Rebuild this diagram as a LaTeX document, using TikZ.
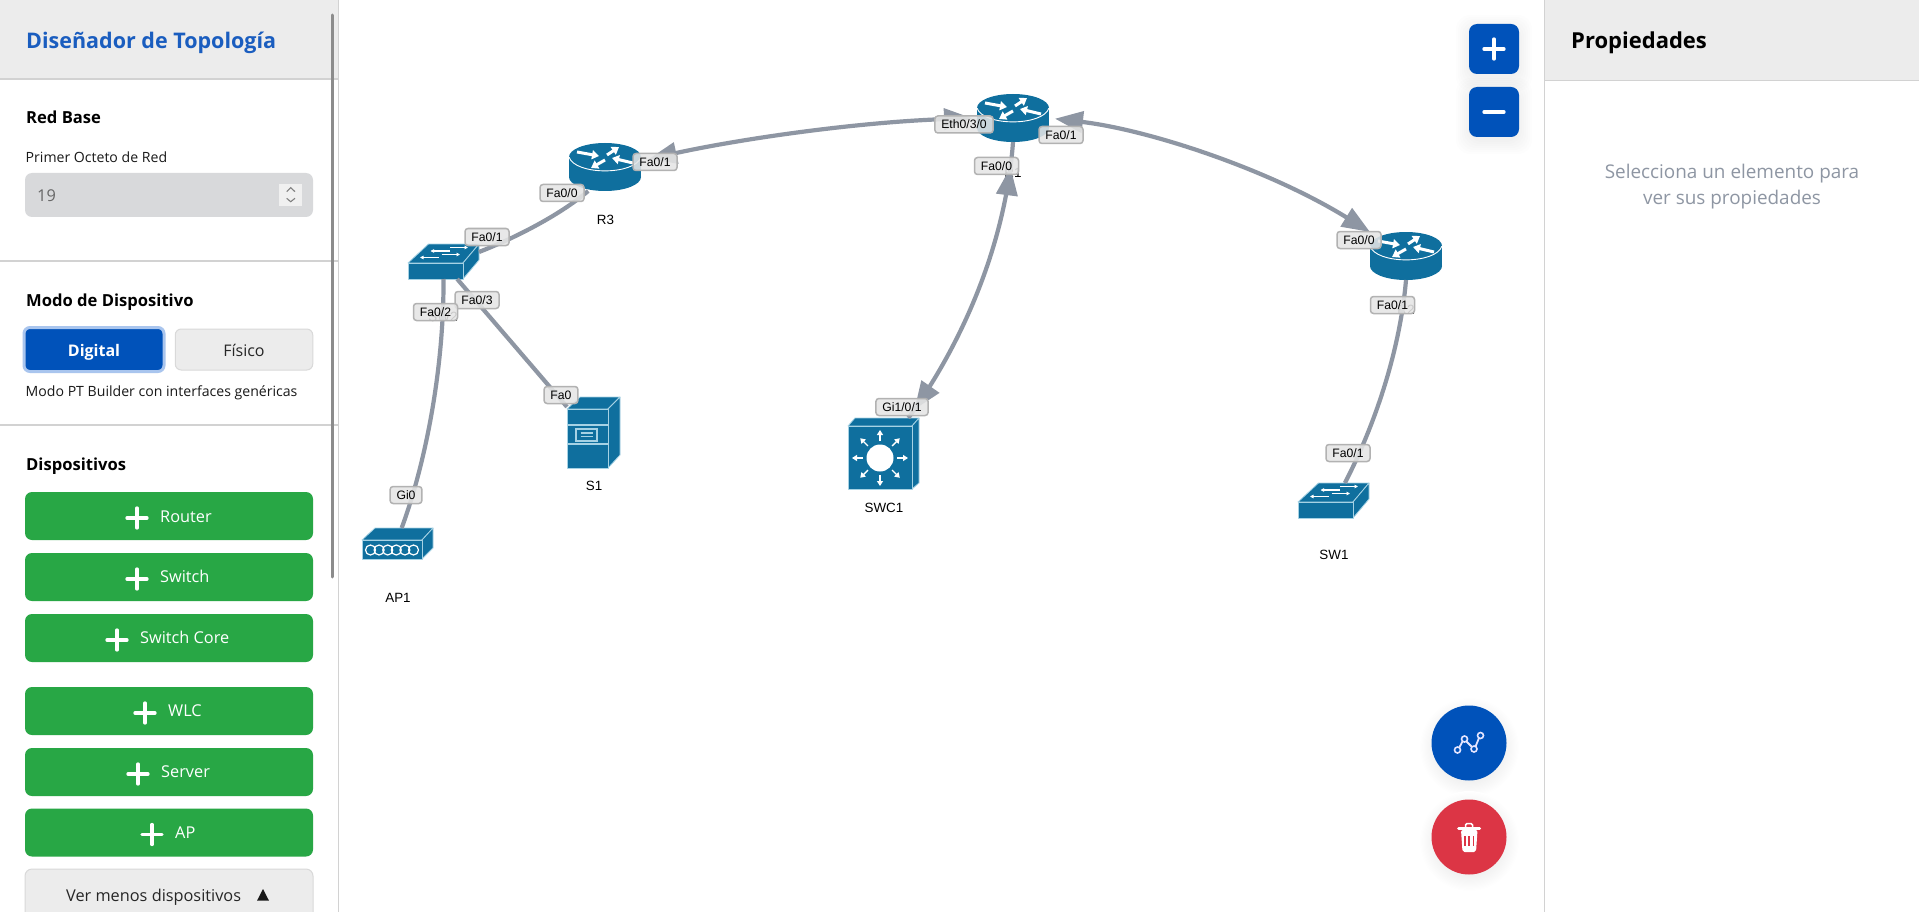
\documentclass[tikz,border=0pt]{standalone}
\usepackage{fontspec}
\setmainfont{Open Sans}
\newfontfamily\labelfont{Liberation Sans}
\usepackage{xcolor}
\usetikzlibrary{arrows.meta,decorations.markings,calc}
\definecolor{panelgray}{HTML}{ECECEC}
\definecolor{linegray}{HTML}{D2D2D2}
\definecolor{inputgray}{HTML}{D8D9DB}
\definecolor{mutedgray}{HTML}{8E96A3}
\definecolor{primaryblue}{HTML}{0052BA}
\definecolor{titleblue}{HTML}{1A5DBF}
\definecolor{ringblue}{HTML}{A9C5EE}
\definecolor{addgreen}{HTML}{28A745}
\definecolor{trashred}{HTML}{DC3545}
\definecolor{devblue}{HTML}{0F6F9E}
\definecolor{devedge}{HTML}{A6D2E4}
\definecolor{linkgray}{HTML}{8E96A3}
\newcommand{\uifont}[1]{\fontsize{#1}{#1}\selectfont}
\tikzset{bighead/.tip={Triangle[length=28pt,width=21pt]}}
\tikzstyle{devhit}=[rectangle,inner sep=0pt,outer sep=0pt]
\tikzstyle{devname}=[inner sep=0pt,anchor=base,font={\labelfont\uifont{13.4}}]
\tikzstyle{portlabel}=[rectangle,rounded corners=3pt,draw=black!30,line width=1.5pt,fill=black!10,fill opacity=.88,text opacity=1,font={\labelfont\uifont{12.2}},inner xsep=6.4pt,inner ysep=0pt,minimum height=17pt,text height=9pt,text depth=0pt]
\tikzstyle{linkline}=[draw=linkgray,line width=4.2pt]
\tikzstyle{devface}=[fill=devblue,draw=devedge,line width=.8pt,line join=round]
\tikzstyle{devmark}=[draw=white,line width=1.1pt,-{Triangle[length=3.5pt,width=3.5pt]}]
\tikzstyle{routermark}=[draw=white,line width=3pt,-{Triangle[length=7pt,width=9pt]}]
\tikzstyle{uitext}=[inner sep=0pt,anchor=base west]
\tikzstyle{sectionhead}=[uitext,font={\bfseries\uifont{16.6}}]
\tikzstyle{smalltext}=[uitext,font={\uifont{14.1}},text=black!90]
\tikzstyle{addbox}=[rectangle,rounded corners=7pt,fill=addgreen,minimum width=288pt,minimum height=48pt,inner sep=0pt]
\tikzstyle{addtext}=[uitext,font={\uifont{16.3}},text=white]
\tikzstyle{plusline}=[draw=white,line width=3.3pt,line cap=round]
\tikzstyle{zoombox}=[rectangle,rounded corners=8pt,fill=primaryblue,minimum size=50pt,inner sep=0pt]
\tikzstyle{roundbtn}=[circle,minimum size=75pt,inner sep=0pt]
\newcommand{\routerIcon}[2]{
	\begin{scope}[shift={#2}]
		\node[devhit,minimum width=72pt,minimum height=48pt] (#1) at (0,0) {};
		\fill[devblue] (-36,-10) rectangle (36,10);
		\fill[devblue] (0,10) ellipse [x radius=36,y radius=14];
		\fill[devblue] (0,-10) ellipse [x radius=36,y radius=14];
		\draw[white,line width=.9pt] (-36,-10) .. controls (-30,8.5) and (30,8.5) .. (36,-10);
		\draw[routermark] (-28,-15) -- (-6,-11);
		\draw[routermark] (2,-12) -- (14,-20);
		\draw[routermark] (0,-7) -- (-14,1);
		\draw[routermark] (28,-4) -- (7,-9);
	\end{scope}
}
\newcommand{\switchIcon}[2]{
	\begin{scope}[shift={#2}]
		\node[devhit,minimum width=71pt,minimum height=35pt] (#1) at (0,0) {};
		\filldraw[devface] (-35.5,1.5) -- (-15,-17.5) -- (35.5,-17.5) -- (19.5,1.5) -- cycle;
		\filldraw[devface] (19.5,1.5) -- (35.5,-17.5) -- (35.5,-1.5) -- (19.5,17.5) -- cycle;
		\filldraw[devface] (-35.5,1.5) rectangle (19.5,17.5);
		\draw[devmark] (6.5,-14) -- (24.5,-14);
		\draw[devmark] (6.5,-10.5) -- (-13,-10.5);
		\draw[devmark] (-2,-7) -- (16.5,-7);
		\draw[devmark] (-5,-4) -- (-23.5,-4);
	\end{scope}
}
\newcommand{\apIcon}[2]{
	\begin{scope}[shift={#2}]
		\node[devhit,minimum width=71pt,minimum height=31pt] (#1) at (0,0) {};
		\filldraw[devface] (-35.5,-3.5) -- (-22.5,-15.5) -- (35.5,-15.5) -- (24.5,-3.5) -- cycle;
		\filldraw[devface] (24.5,-3.5) -- (35.5,-15.5) -- (35.5,4.5) -- (24.5,15.5) -- cycle;
		\filldraw[devface] (-35.5,-3.5) rectangle (24.5,15.5);
		\foreach \cx in {-27,-18.4,-9.8,-1.2,7.4,16} {
			\draw[white,line width=1.2pt] (\cx,6.5) circle (5pt);
		}
	\end{scope}
}
\newcommand{\serverIcon}[2]{
	\begin{scope}[shift={#2}]
		\node[devhit,minimum width=53pt,minimum height=71pt] (#1) at (0,0) {};
		\filldraw[devface] (-26.5,-23.5) -- (-13.5,-35.5) -- (26.5,-35.5) -- (14.5,-23.5) -- cycle;
		\filldraw[devface] (14.5,-23.5) -- (26.5,-35.5) -- (26.5,22.5) -- (14.5,35.5) -- cycle;
		\filldraw[devface] (-26.5,-23.5) rectangle (14.5,35.5);
		\draw[devedge,line width=1.1pt] (-26.5,-7.5) -- (14.5,-7.5) (-26.5,11.5) -- (14.5,11.5);
		\draw[devedge,line width=1.1pt] (-17.5,-3.5) rectangle (3.5,8.5);
		\draw[devedge,line width=1.1pt] (-13,.5) -- (-1,.5) (-13,4) -- (-1,4);
	\end{scope}
}
\newcommand{\coreIcon}[2]{
	\begin{scope}[shift={#2}]
		\node[devhit,minimum width=71pt,minimum height=71pt] (#1) at (0,0) {};
		\filldraw[devface] (-35.5,-27.5) -- (-28.5,-35.5) -- (35.5,-35.5) -- (28.5,-27.5) -- cycle;
		\filldraw[devface] (28.5,-27.5) -- (35.5,-35.5) -- (35.5,29.5) -- (28.5,35.5) -- cycle;
		\filldraw[devface] (-35.5,-27.5) rectangle (28.5,35.5);
		\fill[white] (-3.5,4.5) circle (13.5pt);
		\foreach \ang in {0,45,...,315} {
			\draw[white,line width=1.4pt,-{Triangle[length=5pt,width=6pt]}] ({-3.5+17*cos(\ang)},{4.5+17*sin(\ang)}) -- ({-3.5+28*cos(\ang)},{4.5+28*sin(\ang)});
		}
	\end{scope}
}
\newcommand{\addButton}[6]{
	\node[addbox] (#1) at (169,#2) {};
	\draw[plusline] (#4-10,#2+2) -- (#4+10,#2+2) (#4,#2-8) -- (#4,#2+12);
	\node[addtext] (#1Text) at (#5,#3) {#6};
}
\newcommand{\softShadow}[1]{
	\foreach \grow in {1,3,...,13} {
		\fill[black,opacity=.007,rounded corners=14pt] ($#1+(-25-\grow,-21-\grow)$) rectangle ($#1+(25+\grow,29+\grow)$);
	}
}
\begin{document}
\begin{tikzpicture}[x=1pt,y=-1pt]
	\useasboundingbox (0,0) rectangle (1919,912);
	\fill[white] (0,0) rectangle (1919,912);

	\fill[panelgray] (0,0) rectangle (338,79);
	\draw[linegray,line width=1.3pt] (0,79) -- (338,79);
	\draw[linegray,line width=1.3pt] (0,261) -- (338,261);
	\draw[linegray,line width=1.3pt] (0,425) -- (338,425);
	\draw[linegray,line width=1.3pt] (338.5,0) -- (338.5,912);
	\draw[black!45,line width=3pt,line cap=round] (332.5,15) -- (332.5,577);

	\node[uitext,font={\bfseries\uifont{21.5}},text=titleblue] (tituloPanel) at (26,48.5) {Diseñador de Topología};
	\node[sectionhead] (redBase) at (26,124) {Red Base};
	\node[smalltext] (primerOcteto) at (25.5,163) {Primer Octeto de Red};
	\node[rectangle,rounded corners=7pt,fill=inputgray,minimum width=288pt,minimum height=44pt,inner sep=0pt] (octetoInput) at (169,195) {};
	\node[uitext,font={\uifont{16.3}},text=black!60] (octetoValor) at (37,202) {19};
	\fill[black!6] (279,184) rectangle (302,206);
	\draw[black!50,line width=1.1pt] (286.7,191.7) -- (290.7,187.7) -- (295,191.7);
	\draw[black!50,line width=1.1pt] (286.7,198.3) -- (290.7,201.7) -- (295,198.3);

	\node[sectionhead] (modoDispositivo) at (26,306) {Modo de Dispositivo};
	\node[rectangle,rounded corners=6pt,fill=primaryblue,draw=ringblue,line width=3pt,minimum width=140pt,minimum height=44pt,inner sep=0pt] (btnDigital) at (94,349.5) {};
	\node[inner sep=0pt,anchor=base,font={\bfseries\uifont{16}},text=white] (txtDigital) at (94,356) {Digital};
	\node[rectangle,rounded corners=6pt,fill=panelgray,draw=black!15,line width=1pt,minimum width=137.5pt,minimum height=41pt,inner sep=0pt] (btnFisico) at (244,349.5) {};
	\node[inner sep=0pt,anchor=base,font={\uifont{16}},text=black!85] (txtFisico) at (244,356) {Físico};
	\node[smalltext] (modoNota) at (25.5,396.5) {Modo PT Builder con interfaces genéricas};

	\node[sectionhead] (dispositivos) at (26,470) {Dispositivos};
	\addButton{btnRouter}{516}{522.5}{137}{160}{Router}
	\addButton{btnSwitch}{577}{582.5}{137}{160}{Switch}
	\addButton{btnCore}{638}{643.5}{117}{140}{Switch Core}
	\addButton{btnWlc}{711}{716.5}{145}{168}{WLC}
	\addButton{btnServer}{772}{777.5}{138}{161}{Server}
	\addButton{btnAp}{832.5}{838.5}{152}{175}{AP}
	\node[rectangle,rounded corners=7pt,fill=panelgray,draw=black!15,line width=1pt,minimum width=288pt,minimum height=62pt,inner sep=0pt] (btnMenos) at (169,900) {};
	\node[uitext,font={\uifont{16.3}},text=black!85] (txtMenos) at (66,901.5) {Ver menos dispositivos};
	\fill[black!90] (257,900.7) -- (263,889) -- (269,900.7) -- cycle;

	\fill[panelgray] (1544,0) rectangle (1919,80);
	\draw[linegray,line width=1.3pt] (1544,80.5) -- (1919,80.5);
	\draw[linegray,line width=1.3pt] (1544.5,0) -- (1544.5,912);
	\node[uitext,font={\bfseries\uifont{22}}] (propiedades) at (1571,48.5) {Propiedades};
	\node[inner sep=0pt,anchor=base,font={\uifont{18.9}},text=mutedgray] (vacioUno) at (1732,178.5) {Selecciona un elemento para};
	\node[inner sep=0pt,anchor=base,font={\uifont{18.9}},text=mutedgray] (vacioDos) at (1732,205) {ver sus propiedades};

	\softShadow{(1494,49)}
	\softShadow{(1494,112)}
	\node[zoombox] (zoomMas) at (1494,49) {};
	\node[zoombox] (zoomMenos) at (1494,112) {};
	\draw[plusline] (1484,49) -- (1504,49) (1494,39) -- (1494,59);
	\draw[plusline] (1484,112) -- (1504,112);

	\shade[inner color=black!17,outer color=white] (1469,747) circle (50pt);
	\shade[inner color=black!17,outer color=white] (1469,841) circle (50pt);
	\node[roundbtn,fill=primaryblue] (btnEnlace) at (1469,743) {};
	\node[roundbtn,fill=trashred] (btnBorrar) at (1469,837) {};
	\draw[blue!10!white,line width=1.8pt] (1459,748) -- (1462.5,741.5) (1466,741) -- (1472,747) (1475.5,746.5) -- (1479,738);
	\draw[blue!10!white,line width=1.6pt] (1457.5,750) circle (3pt) (1464.5,739) circle (3pt) (1474,749) circle (3pt) (1480.5,735.5) circle (3pt);
	\draw[white,line width=3pt,line cap=round] (1458.5,828.5) -- (1479.5,828.5);
	\draw[white,line width=1.5pt,rounded corners=1.5pt] (1465.5,828) -- (1465.5,823.5) -- (1472.5,823.5) -- (1472.5,828);
	\fill[white,rounded corners=2pt] (1461,830) -- (1477.5,830) -- (1476,852) -- (1462.5,852) -- cycle;
	\draw[trashred,line width=1.5pt] (1465,836) -- (1465,846) (1469.2,836) -- (1469.2,846) (1473.4,836) -- (1473.4,846);

	\routerIcon{rTres}{(605,167)}
	\routerIcon{rUno}{(1013,118)}
	\routerIcon{rDos}{(1406,256)}
	\switchIcon{swDos}{(443.5,261.5)}
	\switchIcon{swUno}{(1333.5,500.5)}
	\apIcon{apUno}{(397.5,543.5)}
	\serverIcon{srvUno}{(593.5,432.5)}
	\coreIcon{swcUno}{(883.5,453.5)}

	\node[devname] (nameRTres) at (605.5,225) {R3};
	\node[devname] (nameRUno) at (1013,178) {R1};
	\node[devname] (nameRDos) at (1406,314) {R2};
	\node[devname] (nameSwDos) at (443,321) {SW2};
	\node[devname] (nameSrv) at (594,490) {S1};
	\node[devname] (nameAp) at (398,602) {AP1};
	\node[devname] (nameSwc) at (884,512) {SWC1};
	\node[devname] (nameSwUno) at (1334,559) {SW1};

	\draw[linkline,{bighead}-{bighead},shorten <=8pt,shorten >=5pt] (rTres.10) .. controls (745,138) and (860,122) .. (rUno.west);
	\draw[linkline,{bighead}-{bighead},shorten <=6pt] (rUno.east) .. controls (1150,130) and (1270,170) .. (rDos.north west);
	\draw[linkline,postaction={decorate,decoration={markings,
		mark=at position .085 with {\arrowreversed{bighead}},
		mark=at position .965 with {\arrow{bighead}}}}] (rUno.south) .. controls (1006,240) and (965,340) .. (swcUno.55);
	\draw[linkline] (rTres.235) .. controls (560,215) and (515,238) .. (swDos.15);
	\draw[linkline] (swDos.south) .. controls (444,370) and (425,465) .. (apUno.75);
	\draw[linkline] (swDos.308) -- (srvUno.136);
	\draw[linkline] (rDos.south) .. controls (1400,350) and (1375,425) .. (swUno.57);

	\node[portlabel] (portR3a) at (655,162) {Fa0/1};
	\node[portlabel] (portR3b) at (562,193) {Fa0/0};
	\node[portlabel] (portSa) at (487,237) {Fa0/1};
	\node[portlabel] (portSb) at (477,300) {Fa0/3};
	\node[portlabel] (portSc) at (435.5,312) {Fa0/2};
	\node[portlabel] (portSrv) at (561,395) {Fa0};
	\node[portlabel] (portAp) at (406,495) {Gi0};
	\node[portlabel] (portR1a) at (964,124.5) {Eth0/3/0};
	\node[portlabel] (portR1b) at (1061,135) {Fa0/1};
	\node[portlabel] (portR1c) at (996.5,166) {Fa0/0};
	\node[portlabel] (portSwc) at (902,407) {Gi1/0/1};
	\node[portlabel] (portR2a) at (1359,240) {Fa0/0};
	\node[portlabel] (portR2b) at (1392.5,305) {Fa0/1};
	\node[portlabel] (portSw) at (1348,453) {Fa0/1};
\end{tikzpicture}
\end{document}
